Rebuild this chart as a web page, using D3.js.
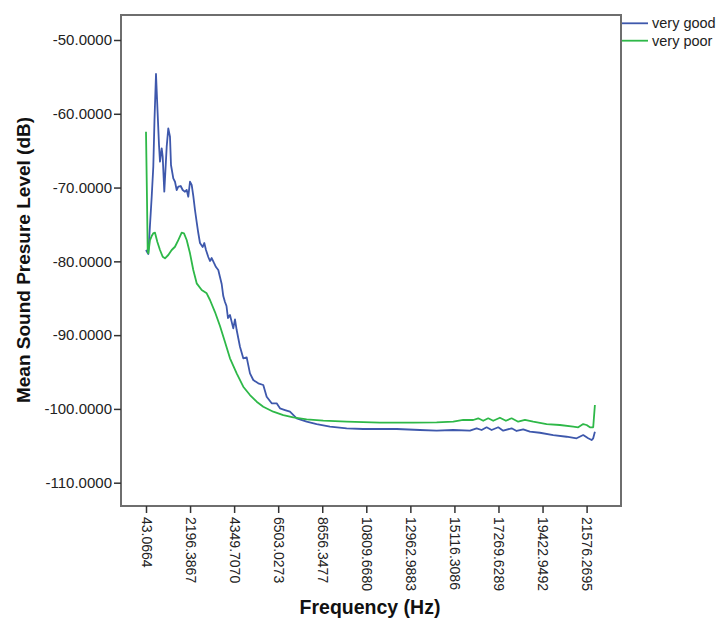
<!DOCTYPE html>
<html>
<head>
<meta charset="utf-8">
<script src="https://cdn.jsdelivr.net/npm/d3@7"></script>
<style>
  html, body { margin: 0; padding: 0; background: #fff; }
  svg { display: block; font-family: "Liberation Sans", Arial, sans-serif; }
</style>
</head>
<body>
<svg id="chart" width="720" height="621"></svg>
<script>
// ---- Data ----
const seriesNames = ["very good", "very poor"];
const seriesColors = ["#3e58ac", "#2eb848"];

const xTickValues = [43.0664, 2196.3867, 4349.7070, 6503.0273, 8656.3477, 10809.6680,
  12962.9883, 15116.3086, 17269.6289, 19422.9492, 21576.2695];
const xTickLabels = ["43.0664", "2196.3867", "4349.7070", "6503.0273", "8656.3477", "10809.6680",
  "12962.9883", "15116.3086", "17269.6289", "19422.9492", "21576.2695"];
const yTickValues = [-110, -100, -90, -80, -70, -60, -50];
const yTickLabels = ["-110.0000", "-100.0000", "-90.0000", "-80.0000", "-70.0000", "-60.0000", "-50.0000"];

// very good
const goodFreq = [43.1, 155.4, 238.5, 321.6, 399.8, 457.9, 531.7, 605.0, 678.3, 727.1, 810.2, 859.0,
  937.2, 1054.5, 1132.7, 1215.7, 1264.6, 1377.0, 1460.0, 1543.1, 1621.3, 1738.5, 1836.3, 1948.7,
  2031.8, 2110.0, 2193.0, 2276.1, 2354.3, 2437.3, 2520.4, 2598.6, 2681.6, 2813.5, 2891.7, 2974.7,
  3087.1, 3170.2, 3253.2, 3365.6, 3463.3, 3575.7, 3658.8, 3741.8, 3820.0, 3903.1, 3976.4, 4049.7,
  4147.4, 4308.6, 4391.7, 4474.7, 4636.0, 4797.2, 4963.3, 5124.6, 5285.8, 5530.1, 5774.4, 5940.6,
  6184.9, 6429.2, 6590.5, 6834.8, 7079.1, 7406.5, 7895.1, 8383.7, 9033.6, 9849.6, 10660.7, 12292.7,
  13431.2, 14247.1, 15058.3, 15874.3, 16201.6, 16445.9, 16690.2, 16934.5, 17257.0, 17501.3, 17911.7,
  18156.0, 18478.5, 18805.9, 19294.5, 19944.4, 20599.1, 21087.7, 21410.2, 21654.5, 21820.6, 21898.8,
  21981.9];
const goodDb = [-78.46, -79.00, -75.07, -71.24, -67.17, -60.84, -54.61, -59.49, -64.23, -66.49, -64.68, -65.82,
  -70.56, -64.46, -61.97, -63.11, -66.94, -68.75, -69.21, -70.33, -69.88, -69.79, -70.33, -70.56,
  -70.33, -71.24, -69.21, -69.65, -71.14, -73.04, -74.67, -76.16, -77.51, -78.06, -77.51, -78.46,
  -79.41, -79.95, -79.55, -80.22, -80.77, -81.17, -82.12, -83.07, -84.70, -85.51, -86.05, -87.68,
  -87.27, -89.08, -87.86, -89.31, -91.57, -93.14, -93.01, -95.18, -96.08, -96.53, -96.76, -98.35,
  -99.24, -99.24, -99.92, -100.15, -100.38, -101.27, -101.73, -102.05, -102.41, -102.63, -102.72, -102.72,
  -102.86, -102.95, -102.86, -102.95, -102.63, -102.86, -102.49, -102.86, -102.49, -102.95, -102.63,
  -102.99, -102.76, -103.09, -103.23, -103.54, -103.77, -103.98, -103.54, -103.98, -104.22, -103.98,
  -103.09];

// very poor
const poorFreq = [43.1, 91.9, 126.1, 155.4, 238.5, 321.6, 409.5, 482.8, 595.2, 727.1, 859.0, 971.4,
  1132.7, 1298.8, 1460.0, 1621.3, 1787.4, 1899.8, 2031.8, 2193.0, 2354.3, 2520.4, 2764.7, 3009.0,
  3170.2, 3414.5, 3658.8, 3903.1, 4147.4, 4474.7, 4797.2, 5124.6, 5451.9, 5774.4, 6263.0, 6751.7,
  7240.3, 7895.1, 8706.2, 9849.6, 11476.7, 13103.8, 14247.1, 15058.3, 15546.9, 16035.5, 16279.8,
  16524.1, 16768.4, 17012.7, 17340.1, 17633.2, 17911.7, 18234.2, 18561.6, 18967.1, 19621.9, 20271.7,
  20921.6, 21165.9, 21410.2, 21576.3, 21737.5, 21898.8, 21981.9];
const poorDb = [-62.43, -71.69, -78.69, -78.91, -77.11, -76.57, -76.16, -76.12, -77.34, -78.46, -79.37, -79.59,
  -79.14, -78.46, -78.02, -77.11, -76.12, -76.20, -77.11, -78.91, -81.17, -82.98, -83.88, -84.33,
  -85.24, -86.87, -88.76, -90.93, -93.14, -95.18, -96.99, -98.12, -99.02, -99.70, -100.38, -100.83,
  -101.14, -101.41, -101.60, -101.73, -101.87, -101.87, -101.82, -101.73, -101.50, -101.50, -101.27,
  -101.60, -101.27, -101.60, -101.19, -101.60, -101.27, -101.73, -101.50, -101.73, -102.05, -102.18,
  -102.41, -102.49, -102.05, -102.18, -102.49, -102.49, -99.47];

const xTitle = "Frequency (Hz)";
const yTitle = "Mean Sound Presure Level (dB)";

// ---- Layout ----
const svg = d3.select("#chart");
const frame = { left: 121, top: 15, right: 621, bottom: 506 };

const x = d3.scaleLinear().domain([43.0664, 21576.2695]).range([146, 586.6]);
const y = d3.scaleLinear().domain([-110, -50]).range([482.7, 40]);

// plot frame
svg.append("rect")
  .attr("x", frame.left).attr("y", frame.top)
  .attr("width", frame.right - frame.left).attr("height", frame.bottom - frame.top)
  .attr("fill", "#fff").attr("stroke", "#6e6e6e").attr("stroke-width", 2);

// y axis
const yAxis = d3.axisLeft(y).tickValues(yTickValues)
  .tickFormat((d, i) => yTickLabels[i]).tickSize(7).tickPadding(2);
const gy = svg.append("g").attr("transform", `translate(${frame.left},0)`).call(yAxis);
gy.select(".domain").remove();
gy.selectAll(".tick line").attr("stroke", "#333").attr("stroke-width", 1.5);
gy.selectAll(".tick text").attr("fill", "#222").style("font-size", "15px")
  .style("font-family", "Liberation Sans, Arial, sans-serif");

// x axis
const xAxis = d3.axisBottom(x).tickValues(xTickValues)
  .tickFormat((d, i) => xTickLabels[i]).tickSize(7);
const gx = svg.append("g").attr("transform", `translate(0,${frame.bottom})`).call(xAxis);
gx.select(".domain").remove();
gx.selectAll(".tick line").attr("stroke", "#333").attr("stroke-width", 1.5);
gx.selectAll(".tick text")
  .attr("fill", "#222")
  .style("font-size", "14px")
  .style("font-family", "Liberation Sans, Arial, sans-serif")
  .attr("text-anchor", "start")
  .attr("x", 0).attr("y", 0).attr("dy", "0.35em")
  .attr("transform", "translate(0,11) rotate(90)");

// lines
const line = d3.line().x(d => x(d[0])).y(d => y(d[1]));
const goodData = goodFreq.map((f, i) => [f, goodDb[i]]);
const poorData = poorFreq.map((f, i) => [f, poorDb[i]]);
[goodData, poorData].forEach((data, i) => {
  svg.append("path").datum(data)
    .attr("d", line)
    .attr("fill", "none")
    .attr("stroke", seriesColors[i])
    .attr("stroke-width", 1.8)
    .attr("stroke-linejoin", "round");
});

// legend
const legend = svg.append("g");
seriesNames.forEach((name, i) => {
  const ly = 23.3 + i * 17.4;
  legend.append("line")
    .attr("x1", 622).attr("x2", 648).attr("y1", ly).attr("y2", ly)
    .attr("stroke", seriesColors[i]).attr("stroke-width", 1.8);
  legend.append("text")
    .attr("x", 652).attr("y", ly).attr("dy", "0.35em")
    .attr("fill", "#222").style("font-size", "14.5px")
    .text(name);
});

// axis titles
svg.append("text")
  .attr("x", 370).attr("y", 607).attr("dy", "0.35em")
  .attr("text-anchor", "middle")
  .style("font-size", "19.5px").style("font-weight", "bold").attr("fill", "#111")
  .text(xTitle);

svg.append("text")
  .attr("transform", "translate(23,260) rotate(-90)")
  .attr("dy", "0.35em")
  .attr("text-anchor", "middle")
  .style("font-size", "19px").style("font-weight", "bold").attr("fill", "#111")
  .text(yTitle);
</script>
</body>
</html>
